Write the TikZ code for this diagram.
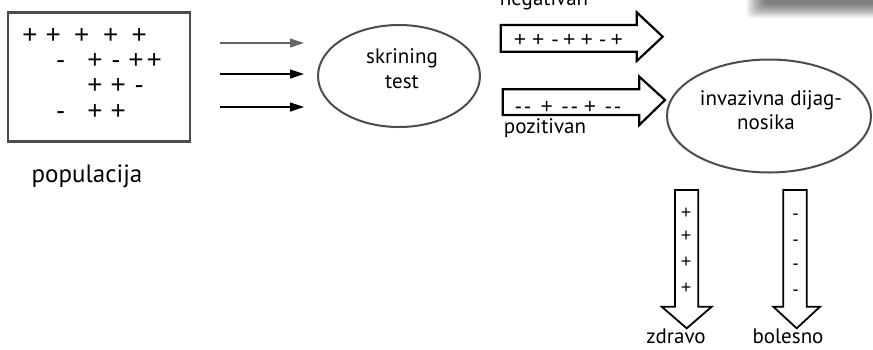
\documentclass[tikz,border=0pt]{standalone}
\usepackage{fontspec}
\setmainfont{PT Sans}
\newfontfamily\signfont{Liberation Sans}
\usetikzlibrary{arrows.meta,shapes.geometric}
\begin{document}
\begin{tikzpicture}[x=1pt,y=-1pt,
  lbl/.style={anchor=base, inner sep=0pt, font=\fontsize{21}{25}\selectfont},
  signs/.style={inner sep=0pt, anchor=base},
  sym/.style={signs, font=\signfont\fontsize{26}{28}\selectfont},
  asym/.style={signs, font=\signfont\fontsize{21}{23}\selectfont},
  dsym/.style={signs, font=\signfont\fontsize{18}{20}\selectfont},
  oval/.style={draw=black!70, line width=2pt, ellipse, inner sep=0pt},
  bigarrow/.style={draw=black, line width=2.2pt, fill=white, line join=miter},
  downarrow/.style={draw=black, line width=1.8pt, fill=white, line join=miter},
  feed/.style={line width=1.2pt, -{Triangle[length=14pt, width=9pt]}}]
\useasboundingbox (0,0) rectangle (873,349);

% soft shadow in the upper right corner
\foreach \i in {1,...,12}
  \fill[black, opacity=0.055, rounded corners=6pt]
    (745+1.6*\i,-30) rectangle (900,19-1.2*\i);

% population box with its signs (baselines)
\node[draw=black!70, line width=2.5pt, minimum width=182pt, minimum height=129pt,
      inner sep=0pt] (pop) at (99,77) {};
\foreach \x/\s in {30/+,53.3/+,81.7/+,110.7/+,139.3/+}
  \node[sym] at (\x,43) {\s};
\foreach \x/\s in {60.7/-,95/+,116/-,136/+,154.3/+}
  \node[sym] at (\x,68) {\s};
\foreach \x/\s in {95/+,118.3/+,139.3/-}
  \node[sym] at (\x,93) {\s};
\foreach \x/\s in {60.7/-,95/+,118.3/+}
  \node[sym] at (\x,119.5) {\s};
\node[lbl, font=\fontsize{25}{30}\selectfont] (poplbl) at (87,182) {populacija};

% screening test
\node[oval, minimum width=162pt, minimum height=102pt] (skr) at (399,76) {};
\node[lbl] at (402,63) {skrining};
\node[lbl] at (402,88) {test};

\coordinate (f1s) at (220,43);  \coordinate (f1e) at (304,43);
\coordinate (f2s) at (220,74);  \coordinate (f2e) at (304,74);
\coordinate (f3s) at (220,107); \coordinate (f3e) at (304,107);
\draw[feed, black!60] (f1s) -- (f1e);
\draw[feed] (f2s) -- (f2e);
\draw[feed] (f3s) -- (f3e);

% negative result arrow
\draw[bigarrow] (500.7,25) -- (636.7,25) -- (636.7,12.3) -- (662.7,36.7)
  -- (636.7,61) -- (636.7,51.7) -- (500.7,51.7) -- cycle;
\foreach \x/\s in {520/+,538.3/+,555/-,569.3/+,586.7/+,602.7/-,616.7/+}
  \node[asym] at (\x,46) {\s};
\node[lbl] (neg) at (544,5) {negativan};

% positive result arrow
\draw[bigarrow] (502.7,89.3) -- (639.3,89.3) -- (639.3,76.7) -- (665,100)
  -- (639.3,125) -- (639.3,115) -- (502.7,115) -- cycle;
\foreach \x/\s in {518.3/-,527.7/-,546.7/+,565/-,574.3/-,590/+,608.3/-,617.7/-}
  \node[asym] at (\x,113.5) {\s};
\node[lbl] (poz) at (545,133) {pozitivan};

% invasive diagnostics
\node[oval, minimum width=204pt, minimum height=113pt] (inv) at (769,116) {};
\node[lbl] at (771,105) {invazivna dijag-};
\node[lbl] at (766,129) {nosika};

% outcome arrows
\draw[downarrow] (675,190) -- (698.3,190) -- (698.3,306.7) -- (711.7,306.7)
  -- (686.7,328.3) -- (661.7,306.7) -- (675,306.7) -- cycle;
\foreach \y in {210,233.3,259,285}
  \node[dsym] at (686,\y+8) {+};
\node[lbl] (zdr) at (676,343) {zdravo};

\draw[downarrow] (783.3,190) -- (806.7,190) -- (806.7,306.7) -- (820,306.7)
  -- (796.7,328.3) -- (773.3,306.7) -- (783.3,306.7) -- cycle;
\foreach \y in {211.7,237,261.7,287}
  \node[dsym] at (795.7,\y+8) {-};
\node[lbl] (bol) at (788,343) {bolesno};
\end{tikzpicture}
\end{document}
